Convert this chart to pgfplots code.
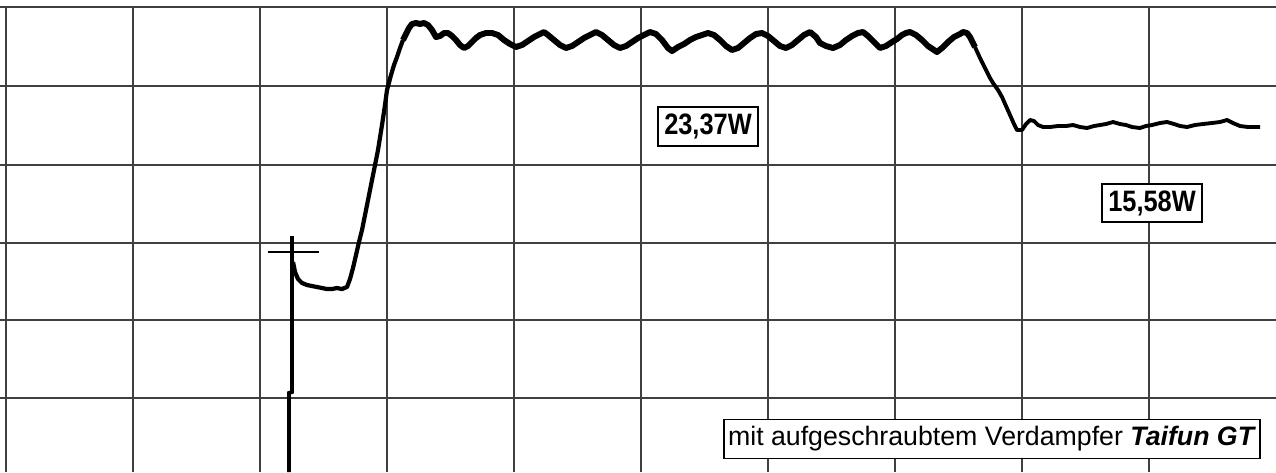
\documentclass[border=0pt]{standalone}
\usepackage{pgfplots}
\pgfplotsset{compat=1.18}
\usepackage{fontspec}
\setmainfont{Liberation Sans}
\newfontfamily\narrowfont[FakeStretch=0.86]{Liberation Sans}
\begin{document}
\begin{tikzpicture}
\begin{axis}[
  scale only axis,
  width=127.6mm, height=47.2mm,
  xmin=0, xmax=1276, ymin=0, ymax=472,
  y dir=reverse,
  axis line style={draw=none},
  xtick={6,133,260,387,514,641,768,895,1022,1149},
  ytick={7,86,165,243,320,398},
  xticklabels={}, yticklabels={},
  major tick length=0pt,
  grid=major,
  grid style={line width=0.55pt, color=black!75},
]
\fill[white] (axis cs:0,0) rectangle (axis cs:1276,6.2);
% spike
\addplot[black, line width=1.1pt] coordinates {(289,472) (289,393) (292,392) (292,236)};
% cursor cross
\addplot[black, line width=0.6pt] coordinates {(268,252) (319,252)};
% main trace: low plateau and rise
\addplot[black, line width=1.2pt, line join=round] coordinates {
(293,262)(295,272)(298,279)(302,283)(307,285)(312,286)(317,287)(322,288)(327,289)(332,289)(337,288)(342,289)(347,287)
(350,279)(353,268)(356,255)(359,242)(362,230)(366,210)(370,190)(374,170)(378,150)(382,125)(385,105)(387,90)
(391,75)(394,65)(397,57)(400,48)(403,40)
};
% high plateau
\addplot[black, line width=1.7pt, line join=round] coordinates {
(403,40)(406,34)(409,28)(412,24)(416,23)(420,24)(424,23)(428,25)(432,30)(436,37)
(440,36)(444,33)(448,33)(452,36)(456,40)(460,45)(464,48)(468,46)(472,42)(476,38)(480,35)(486,33)(492,33)(498,35)
(504,40)(510,44)(516,47)(522,45)(528,41)(534,37)(540,34)(544,32)(548,35)(554,40)(560,45)(566,48)(572,46)(578,42)
(584,38)(590,35)(596,32)(602,35)(608,40)(614,45)(620,48)(626,46)(632,42)(638,38)(644,35)(650,32)(656,34)(662,40)
(668,48)(672,51)(678,47)(684,44)(690,40)(696,37)(702,35)(708,33)(714,35)(720,40)(726,46)(732,50)(738,48)(744,43)
(750,38)(756,34)(762,33)(768,36)(774,41)(780,46)(786,48)(792,45)(798,40)(804,35)(810,32)(816,37)(820,43)(826,46)
(833,48)(840,45)(846,40)(852,36)(858,33)(863,32)(868,36)(874,42)(880,48)(886,46)(892,42)(897,39)(902,35)(906,33)
(910,32)(916,35)(922,40)(928,46)(934,50)(937,52)(942,48)(948,42)(954,37)(960,34)(963,32)(967,33)(970,37)(975,47)
};
% fall and low plateau
\addplot[black, line width=1.1pt, line join=round] coordinates {
(975,47)(980,58)(985,68)(990,78)(993,83)(998,90)(1002,97)(1006,106)(1010,115)(1014,124)(1017,130)(1022,130)(1026,124)
(1030,120)(1034,121)(1038,125)(1043,127)(1050,127)(1058,126)(1066,126)(1073,125)(1080,127)(1087,128)(1094,126)
(1100,125)(1106,124)(1113,122)(1120,124)(1126,125)(1132,127)(1140,128)(1146,126)(1152,125)(1160,123)(1167,122)
(1174,124)(1180,126)(1187,127)(1195,125)(1203,124)(1212,123)(1220,122)(1227,120)(1233,123)(1240,126)(1248,127)
(1255,127)(1260,127)
};
\node[draw=black, line width=0.5pt, fill=white, inner sep=0pt, minimum width=10mm, minimum height=3.9mm,
  font=\narrowfont\bfseries\fontsize{8.4}{9}\selectfont] at (axis cs:708,126.5) {23,37W};
\node[draw=black, line width=0.5pt, fill=white, inner sep=0pt, minimum width=10mm, minimum height=3.8mm,
  font=\narrowfont\bfseries\fontsize{8.4}{9}\selectfont] at (axis cs:1152,203) {15,58W};
\node[draw=black, line width=0.5pt, fill=white, inner sep=0pt, minimum width=53.6mm, minimum height=3.9mm,
  font=\fontsize{7.6}{8}\selectfont] at (axis cs:992,439) {mit aufgeschraubtem Verdampfer \textbf{\textit{Taifun GT}}};
\end{axis}
\pgfresetboundingbox
\path (current axis.south west) rectangle (current axis.north east);
\end{tikzpicture}
\end{document}
